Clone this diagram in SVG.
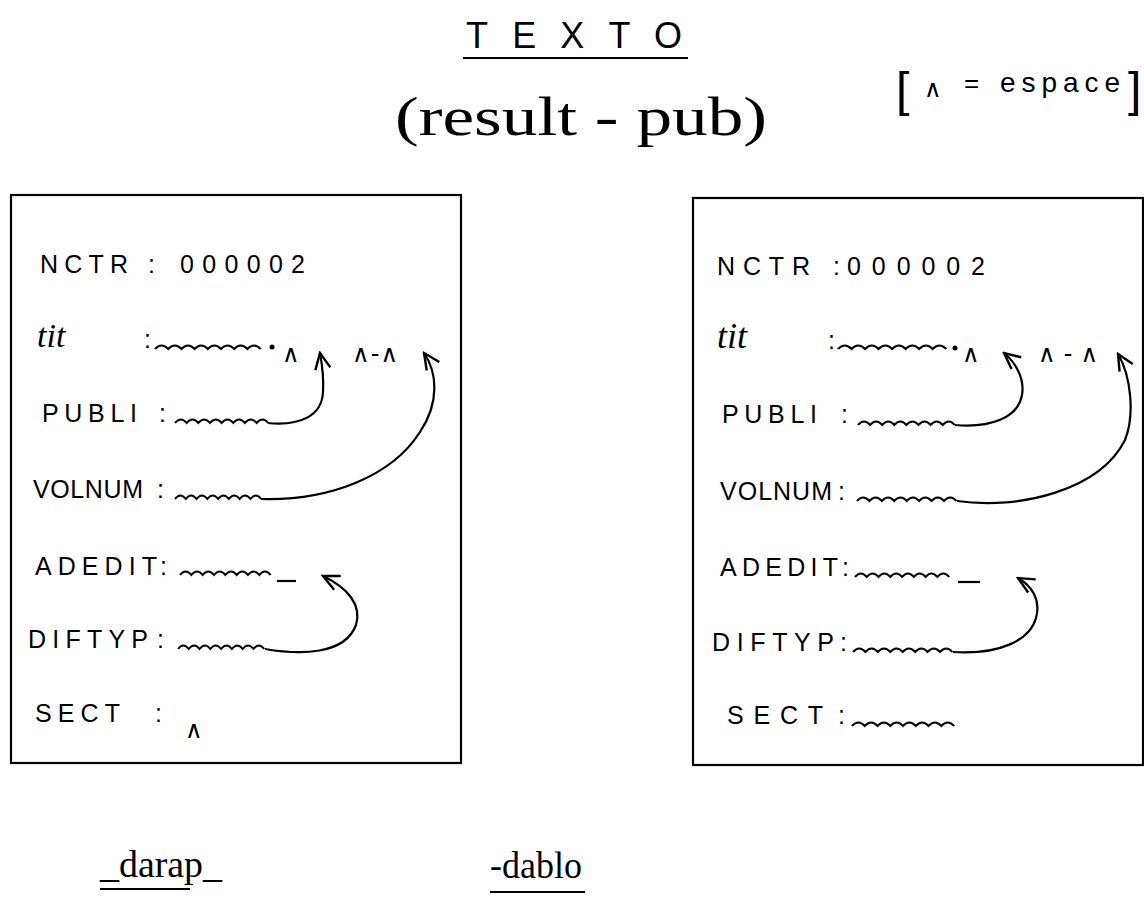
<svg xmlns="http://www.w3.org/2000/svg" xmlns:xlink="http://www.w3.org/1999/xlink" width="1144" height="904" viewBox="0 0 1144 904">
<style>
.lbl{font-family:"Liberation Sans","DejaVu Sans",sans-serif;font-size:25px;fill:#000}
.cur{font-family:"Liberation Serif","DejaVu Serif",serif;fill:#000}
.car{font-family:"DejaVu Sans","Liberation Sans",sans-serif;font-size:24px;fill:#000}
.box{fill:none;stroke:#000;stroke-width:2.2}
.wv{fill:none;stroke:#000;stroke-width:2;vector-effect:non-scaling-stroke}
.ln{fill:none;stroke:#000;stroke-width:2.2}
.con{fill:none;stroke:#000;stroke-width:2.2;marker-end:url(#ah)}
</style>
<defs>
<marker id="ah" viewBox="0 0 10 10" refX="9" refY="5" markerWidth="20" markerHeight="20" markerUnits="userSpaceOnUse" orient="auto">
<path d="M1,1.2 L9,5 L1,8.8" fill="none" stroke="#000" stroke-width="1.2"/>
</marker>
<path id="w" d="M0,0 q5.5,-7 11,0 q5.5,-7 11,0 q5.5,-7 11,0 q5.5,-7 11,0 q5.5,-7 11,0 q5.5,-7 11,0 q5.5,-7 11,0 q5.5,-7 11,0"/>
</defs>
<rect width="1144" height="904" fill="#fff"/>

<g id="title">
<text class="lbl" x="466" y="48" textLength="216" lengthAdjust="spacing" style="font-size:36px">TEXTO</text>
<line class="ln" x1="463" y1="58" x2="688" y2="58"/>
<text class="cur" x="395" y="135" style="font-size:54px" textLength="372" lengthAdjust="spacingAndGlyphs">(result - pub)</text>
</g>

<g id="legend">
<text class="lbl" x="896" y="106" style="font-size:48px">[</text>
<text class="car" x="924" y="97">∧</text>
<text class="lbl" x="964" y="92" style="font-size:26px">=</text>
<text class="lbl" x="1000" y="92" style="font-size:28px" textLength="120" lengthAdjust="spacing">espace</text>
<text class="lbl" x="1128" y="106" style="font-size:48px">]</text>
</g>

<g id="darap-box">
<rect class="box" x="11" y="195" width="450" height="568"/>
<text class="lbl" x="40" y="273" textLength="88" lengthAdjust="spacing">NCTR</text>
<text class="lbl" x="148" y="273">:</text>
<text class="lbl" x="180" y="273" textLength="125" lengthAdjust="spacing">000002</text>
<text class="cur" x="37" y="347" style="font-size:34px;font-style:italic">tit</text>
<text class="lbl" x="144" y="348">:</text>
<use class="wv" xlink:href="#w" href="#w" transform="translate(155,349) scale(1.2,1)"/>
<circle cx="272" cy="347" r="2.5"/>
<text class="car" x="282" y="362">∧</text>
<text class="car" x="352" y="362" textLength="46" lengthAdjust="spacing">∧-∧</text>
<text class="lbl" x="42" y="422" textLength="95" lengthAdjust="spacing">PUBLI</text>
<text class="lbl" x="159" y="422">:</text>
<use class="wv" xlink:href="#w" href="#w" transform="translate(175,423) scale(1.06,1)"/>
<text class="lbl" x="33" y="498" textLength="110" lengthAdjust="spacing">VOLNUM</text>
<text class="lbl" x="157" y="498">:</text>
<use class="wv" xlink:href="#w" href="#w" transform="translate(175,499) scale(0.98,1)"/>
<text class="lbl" x="35" y="575" textLength="122" lengthAdjust="spacing">ADEDIT</text>
<text class="lbl" x="160" y="575">:</text>
<use class="wv" xlink:href="#w" href="#w" transform="translate(180,575) scale(1.03,1)"/>
<line class="ln" x1="277" y1="581" x2="296" y2="581"/>
<text class="lbl" x="28" y="648" textLength="120" lengthAdjust="spacing">DIFTYP</text>
<text class="lbl" x="157" y="648">:</text>
<use class="wv" xlink:href="#w" href="#w" transform="translate(178,649) scale(0.98,1)"/>
<text class="lbl" x="35" y="722" textLength="85" lengthAdjust="spacing">SECT</text>
<text class="lbl" x="155" y="722">:</text>
<text class="car" x="185" y="738">∧</text>
</g>

<g id="dablo-box">
<rect class="box" x="693" y="198" width="450" height="567"/>
<text class="lbl" x="717" y="275" textLength="93" lengthAdjust="spacing">NCTR</text>
<text class="lbl" x="833" y="275">:</text>
<text class="lbl" x="847" y="275" textLength="138" lengthAdjust="spacing">000002</text>
<text class="cur" x="717" y="348" style="font-size:36px;font-style:italic">tit</text>
<text class="lbl" x="828" y="349">:</text>
<use class="wv" xlink:href="#w" href="#w" transform="translate(838,349) scale(1.23,1)"/>
<circle cx="955" cy="348" r="2.5"/>
<text class="car" x="962" y="362">∧</text>
<text class="car" x="1038" y="362" textLength="60" lengthAdjust="spacing">∧-∧</text>
<text class="lbl" x="722" y="423" textLength="95" lengthAdjust="spacing">PUBLI</text>
<text class="lbl" x="841" y="423">:</text>
<use class="wv" xlink:href="#w" href="#w" transform="translate(858,425) scale(1.1,1)"/>
<text class="lbl" x="720" y="500" textLength="112" lengthAdjust="spacing">VOLNUM</text>
<text class="lbl" x="838" y="500">:</text>
<use class="wv" xlink:href="#w" href="#w" transform="translate(857,501) scale(1.13,1)"/>
<text class="lbl" x="720" y="576" textLength="118" lengthAdjust="spacing">ADEDIT</text>
<text class="lbl" x="842" y="576">:</text>
<use class="wv" xlink:href="#w" href="#w" transform="translate(855,577) scale(1.07,1)"/>
<line class="ln" x1="958" y1="582" x2="980" y2="582"/>
<text class="lbl" x="712" y="651" textLength="122" lengthAdjust="spacing">DIFTYP</text>
<text class="lbl" x="840" y="651">:</text>
<use class="wv" xlink:href="#w" href="#w" transform="translate(853,652) scale(1.13,1)"/>
<text class="lbl" x="727" y="724" textLength="96" lengthAdjust="spacing">SECT</text>
<text class="lbl" x="838" y="724">:</text>
<use class="wv" xlink:href="#w" href="#w" transform="translate(852,726) scale(1.16,1)"/>
</g>

<g id="connectors">
<path class="con" d="M268,423 C300,426 322,416 323,392 C324,376 322,364 320,353"/>
<path class="con" d="M261,499 C330,501 392,476 420,432 C440,402 437,372 424,353"/>
<path class="con" d="M265,649 C300,655 345,655 356,625 C362,605 348,588 323,576"/>
<path class="con" d="M955,425 C990,428 1018,418 1022,395 C1025,378 1015,362 1004,353"/>
<path class="con" d="M957,501 C1020,510 1100,490 1125,440 C1135,415 1131,376 1118,354"/>
<path class="con" d="M953,652 C1000,655 1030,640 1036,618 C1041,600 1032,586 1018,578"/>
</g>

<g id="darap-label">
<text class="cur" x="100" y="877" style="font-size:38px" textLength="122" lengthAdjust="spacingAndGlyphs">_darap_</text>
<line class="ln" x1="100" y1="889" x2="190" y2="889"/>
</g>
<g id="dablo-label">
<text class="cur" x="490" y="878" style="font-size:38px" textLength="92" lengthAdjust="spacingAndGlyphs">-dablo</text>
<line class="ln" x1="490" y1="892" x2="585" y2="892"/>
</g>
</svg>
